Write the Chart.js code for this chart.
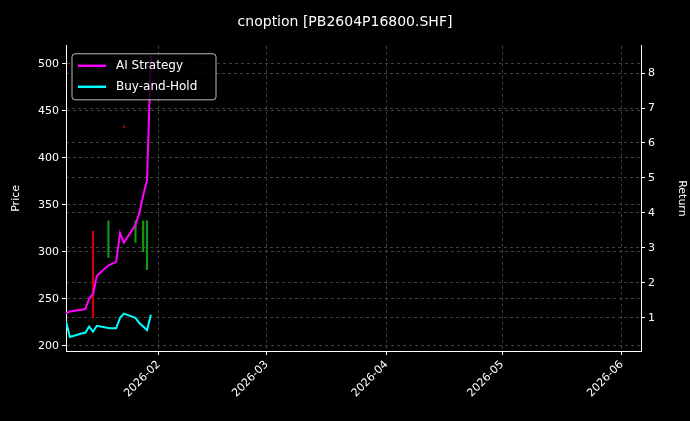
<!DOCTYPE html>
<html><head><meta charset="utf-8">
<script src="https://cdn.jsdelivr.net/npm/chart.js@4"></script>
<style>body{margin:0;background:#000}</style>
</head><body>
<div style="width:690px;height:421px"><canvas id="c" width="690" height="421"></canvas></div>
<script>
const dates = ["2026-01-08","2026-01-09","2026-01-12","2026-01-13","2026-01-14","2026-01-15","2026-01-16",
  "2026-01-19","2026-01-20","2026-01-21","2026-01-22","2026-01-23","2026-01-26","2026-01-27","2026-01-28","2026-01-29","2026-01-30"]
const aiReturn = [1.12,1.18,1.23,1.25,1.55,1.68,2.2,2.5,2.55,2.6,3.42,3.15,3.65,4.0,4.5,4.95,8.5]
const bhReturn = [0.9,0.45,0.55,0.57,0.75,0.6,0.77,0.71,0.7,0.7,1.0,1.12,1.0,0.85,0.75,0.65,1.09]
const candleDates = ["2026-01-15","2026-01-19","2026-01-26","2026-01-28","2026-01-29","2026-01-23"]
const candleLow = [230,294,310,300,281,432]
const candleHigh = [322,333,333,333,333,434]
const candleColor = ["#d00000","#119911","#119911","#119911","#119911","#aa0000"]
const monthTicks = ["2026-02-01","2026-03-01","2026-04-01","2026-05-01","2026-06-01"]

const day = s => Date.parse(s + "T00:00:00Z") / 86400000
const fmt = v => { let d = new Date(v * 86400000); return d.getUTCFullYear() + "-" + String(d.getUTCMonth() + 1).padStart(2, "0") }

Chart.defaults.color = "#fff"
Chart.defaults.font.family = "DejaVu Sans"
Chart.defaults.font.size = 11

const legendBox = {
  id: "legendBox",
  afterDraw(chart) {
    let ctx = chart.ctx, a = chart.chartArea
    let x = a.left + 6, y = a.top + 8
    ctx.save()
    ctx.fillStyle = "rgba(0,0,0,0.8)"
    ctx.strokeStyle = "#bbb"
    ctx.lineWidth = 1
    ctx.beginPath(); ctx.roundRect(x, y, 144, 46, 3); ctx.fill(); ctx.stroke()
    let items = [["AI Strategy", "#ff00ff"], ["Buy-and-Hold", "#00ffff"]]
    items.forEach((it, i) => {
      let yy = y + 12 + i * 21
      ctx.strokeStyle = it[1]; ctx.lineWidth = 2.5
      ctx.beginPath(); ctx.moveTo(x + 6, yy); ctx.lineTo(x + 34, yy); ctx.stroke()
      ctx.fillStyle = "#fff"; ctx.font = "12px DejaVu Sans"; ctx.textBaseline = "middle"
      ctx.fillText(it[0], x + 44, yy)
    })
    ctx.restore()
  }
}

const grid = { color: "rgba(140,140,140,0.45)", tickColor: "#fff", tickLength: 4, offset: false }
const border = { color: "#fff", dash: [3, 3] }

new Chart(document.getElementById("c"), {
  data: {
    datasets: [
      { type: "line", label: "AI Strategy", yAxisID: "yR", data: dates.map((d, i) => ({ x: day(d), y: aiReturn[i] })),
        borderColor: "#ff00ff", borderWidth: 2, pointRadius: 0, tension: 0 },
      { type: "line", label: "Buy-and-Hold", yAxisID: "yR", data: dates.map((d, i) => ({ x: day(d), y: bhReturn[i] })),
        borderColor: "#00ffff", borderWidth: 2, pointRadius: 0, tension: 0 },
      { type: "bar", label: "candles", yAxisID: "y", data: candleDates.map((d, i) => ({ x: day(d), y: [candleLow[i], candleHigh[i]] })),
        backgroundColor: candleColor, barThickness: 1.5, grouped: false }
    ]
  },
  options: {
    responsive: false, animation: false,
    plugins: {
      legend: { display: false },
      tooltip: { enabled: false },
      title: { display: true, text: "cnoption [PB2604P16800.SHF]", font: { size: 14, weight: "normal" }, padding: { top: 14, bottom: 15 } }
    },
    scales: {
      x: { type: "linear", offset: false, min: day("2026-01-08"), max: day("2026-06-06"),
        afterBuildTicks: ax => { ax.ticks = monthTicks.map(m => ({ value: day(m) })) },
        afterFit: ax => { ax.height = 70 },
        ticks: { callback: v => fmt(v), maxRotation: 45, minRotation: 45, color: "#fff" },
        grid: grid, border: border },
      y: { position: "left", min: 194.5, max: 519,
        afterBuildTicks: ax => { ax.ticks = [200, 250, 300, 350, 400, 450, 500].map(v => ({ value: v })) },
        afterFit: ax => { ax.width = 66 },
        title: { display: true, text: "Price", padding: { top: 10, bottom: 2 } }, grid: grid, border: border },
      yR: { position: "right", min: 0.05, max: 8.78,
        afterBuildTicks: ax => { ax.ticks = [1, 2, 3, 4, 5, 6, 7, 8].map(v => ({ value: v })) },
        afterFit: ax => { ax.width = 49 },
        title: { display: true, text: "Return", padding: { top: 2, bottom: 10 } }, grid: grid, border: border }
    }
  },
  plugins: [legendBox]
})
</script>
</body></html>
